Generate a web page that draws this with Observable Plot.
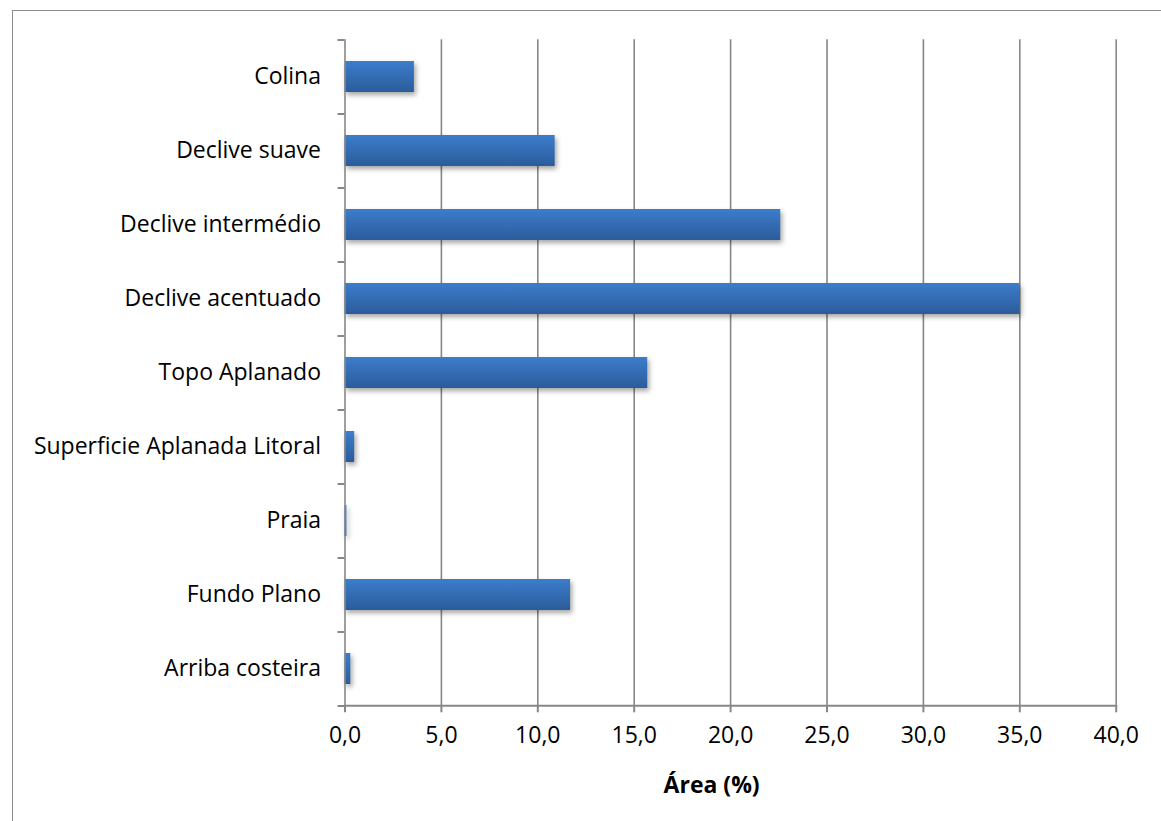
<!DOCTYPE html>
<html>
<head>
<meta charset="utf-8">
<script src="https://cdn.jsdelivr.net/npm/d3@7"></script>
<script src="https://cdn.jsdelivr.net/npm/@observablehq/plot@0.6"></script>
<style>
  html, body { margin: 0; padding: 0; background: #fff; }
  #wrap { position: relative; width: 1161px; height: 821px; overflow: hidden; }
  #frame { position: absolute; left: 12px; top: 10px; width: 1200px; height: 900px;
           border-left: 1.5px solid #8c8c8c; border-top: 1.5px solid #8c8c8c; }
  #chart { position: absolute; left: 0; top: 0; }
</style>
</head>
<body>
<div id="wrap">
  <div id="frame"></div>
  <div id="chart"></div>
</div>
<script>
// Landform classes (top to bottom) and their share of the area, in %
const categories = [
  "Colina",
  "Declive suave",
  "Declive intermédio",
  "Declive acentuado",
  "Topo Aplanado",
  "Superficie Aplanada Litoral",
  "Praia",
  "Fundo Plano",
  "Arriba costeira"
];
const values = [3.6, 10.9, 22.6, 35.0, 15.7, 0.5, 0.1, 11.7, 0.3];
const xTicks = [0, 5, 10, 15, 20, 25, 30, 35, 40];
const xLabel = "Área (%)";

const data = categories.map((c, i) => ({category: c, value: values[i]}));

const W = 1161, H = 821;
const mTop = 39.3, mBottom = 115.7, mLeft = 344.5, mRight = 45.3;
const padInner = 0.58, padOuter = padInner / 2;
const step = (H - mTop - mBottom) / (categories.length - padInner + 2 * padOuter);
const pxPerUnit = (W - mLeft - mRight) / 40;
const grey = "#878787";
const font = "'Open Sans', sans-serif";
const fs = 23;

const chart = Plot.plot({
  width: W,
  height: H,
  marginTop: mTop,
  marginBottom: mBottom,
  marginLeft: mLeft,
  marginRight: mRight,
  style: {fontFamily: font, fontSize: fs + "px", color: "#000", background: "transparent"},
  x: {domain: [0, 40]},
  y: {domain: categories, paddingInner: padInner, paddingOuter: padOuter},
  marks: [
    // vertical gridlines
    Plot.ruleX(xTicks.slice(1), {stroke: grey, strokeWidth: 1.6}),
    // bars
    Plot.barX(data, {x: "value", y: "category", fill: "url(#barGrad)"}),
    // y axis line
    Plot.ruleX([0], {stroke: grey, strokeWidth: 1.6}),
    // x axis baseline
    Plot.frame({anchor: "bottom", stroke: grey, strokeWidth: 2, strokeOpacity: 1}),
    // category boundary ticks
    Plot.ruleY(categories, {y: d => d, x1: -7 / pxPerUnit, x2: 0, dy: -step / 2, stroke: grey, strokeWidth: 2}),
    Plot.ruleY(categories.slice(-1), {y: d => d, x1: -7 / pxPerUnit, x2: 0, dy: step / 2, stroke: grey, strokeWidth: 2}),
    Plot.axisY({tickSize: 0, tickPadding: 24, label: null, fontSize: fs}),
    Plot.axisX({
      ticks: xTicks, tickSize: 7, tickPadding: 14, label: null, stroke: grey, strokeWidth: 2,
      tickFormat: d => d.toFixed(1).replace(".", ","), fontSize: fs
    }),
    Plot.text([xLabel], {frameAnchor: "bottom", dy: 87, dx: -19, fontWeight: "bold", fontSize: fs, fill: "#000"})
  ]
});

// vertical gradient and soft shadow on the bars
const svg = d3.select(chart);
const defs = svg.insert("defs", ":first-child");
const grad = defs.append("linearGradient").attr("id", "barGrad")
  .attr("x1", 0).attr("y1", 0).attr("x2", 0).attr("y2", 1);
grad.append("stop").attr("offset", "0%").attr("stop-color", "#3c7dcb");
grad.append("stop").attr("offset", "100%").attr("stop-color", "#2b5c9b");
svg.selectAll("g[aria-label='bar'] rect")
  .style("filter", "drop-shadow(2px 3px 2.5px rgba(0,0,0,0.35))");

document.getElementById("chart").appendChild(chart);
</script>
</body>
</html>
